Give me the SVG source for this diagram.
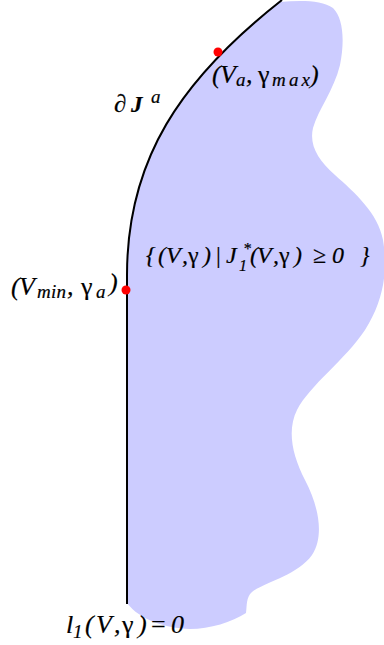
<svg xmlns="http://www.w3.org/2000/svg" width="384" height="645" viewBox="0 0 384 645">
<style>
.t{font-family:"Liberation Serif","Times New Roman",serif;font-style:italic;font-size:26px;fill:#000;stroke:#000;stroke-width:0.2}
.m{font-size:24px}
.s{font-size:19px}
.ss{font-size:16px}
.u{font-style:normal}
.b{font-weight:bold}
.pt{fill:#ff0000}
.bd{fill:none;stroke:#000;stroke-width:2}
</style>
<g id="region">
<path fill="#ccccff" d="M127,603 L127,275 C127,160 180,80 280,2 C300,0 322,0 333,8 C343,18 345,40 340,65 C334,90 318,110 313,128 C309,145 318,160 335,175 C355,193 378,213 383,240 C388,270 384,300 365,330 C345,360 310,385 297,410 C287,430 292,455 305,480 C318,505 325,535 312,555 C298,575 265,582 252,592 C246,597 247,606 246,613 C232,622 210,629 190,629 C165,628 140,620 127,603 Z"/>
</g>
<g id="connectors">
<path class="bd" d="M127,604 L127,275 C127,160 180,80 282,0"/>
</g>
<g id="point-a">
<circle class="pt" cx="218" cy="52" r="4.5"/>
<text class="t"><tspan x="212" y="83">(</tspan><tspan x="220" y="83">V</tspan><tspan class="s" x="236" y="86">a</tspan><tspan x="246" y="83">,</tspan><tspan class="u" x="258" y="83">γ</tspan><tspan class="s" x="272" y="86" textLength="38">max</tspan><tspan x="310" y="83">)</tspan></text>
</g>
<g id="boundary-label">
<text class="t"><tspan x="114" y="112" class="u" style="font-size:25px">∂</tspan><tspan x="131" y="112" class="b" style="font-size:23px">J</tspan><tspan class="s" x="151" y="103">a</tspan></text>
</g>
<g id="set-label">
<text class="t m"><tspan x="146" y="263">{</tspan><tspan x="158" y="263">(</tspan><tspan x="166" y="263">V</tspan><tspan x="182" y="263">,</tspan><tspan class="u" x="188" y="263">γ</tspan><tspan x="203" y="263">)</tspan><tspan class="u" x="216" y="263">|</tspan><tspan x="226" y="263">J</tspan><tspan class="ss" x="243" y="254">*</tspan><tspan class="ss" x="239" y="271">1</tspan><tspan x="250" y="263">(</tspan><tspan x="257" y="263">V</tspan><tspan x="273" y="263">,</tspan><tspan class="u" x="279" y="263">γ</tspan><tspan x="294" y="263">)</tspan><tspan class="u" x="313" y="263">≥</tspan><tspan x="332" y="263">0</tspan><tspan x="360" y="263">}</tspan></text>
</g>
<g id="point-min">
<circle class="pt" cx="126" cy="290" r="4.5"/>
<text class="t"><tspan x="11" y="295">(</tspan><tspan x="19" y="295">V</tspan><tspan class="s" x="37" y="298" textLength="29">min</tspan><tspan x="67" y="295">,</tspan><tspan class="u" x="81" y="295">γ</tspan><tspan class="s" x="96" y="298">a</tspan><tspan x="109" y="291">)</tspan></text>
</g>
<g id="constraint-label">
<text class="t"><tspan x="66" y="633">l</tspan><tspan class="s" x="73" y="638">1</tspan><tspan x="85" y="633">(</tspan><tspan x="96" y="633">V</tspan><tspan x="114" y="633">,</tspan><tspan class="u" x="122" y="633">γ</tspan><tspan x="138" y="633">)</tspan><tspan class="u" x="151" y="633">=</tspan><tspan x="171" y="633">0</tspan></text>
</g>
</svg>
